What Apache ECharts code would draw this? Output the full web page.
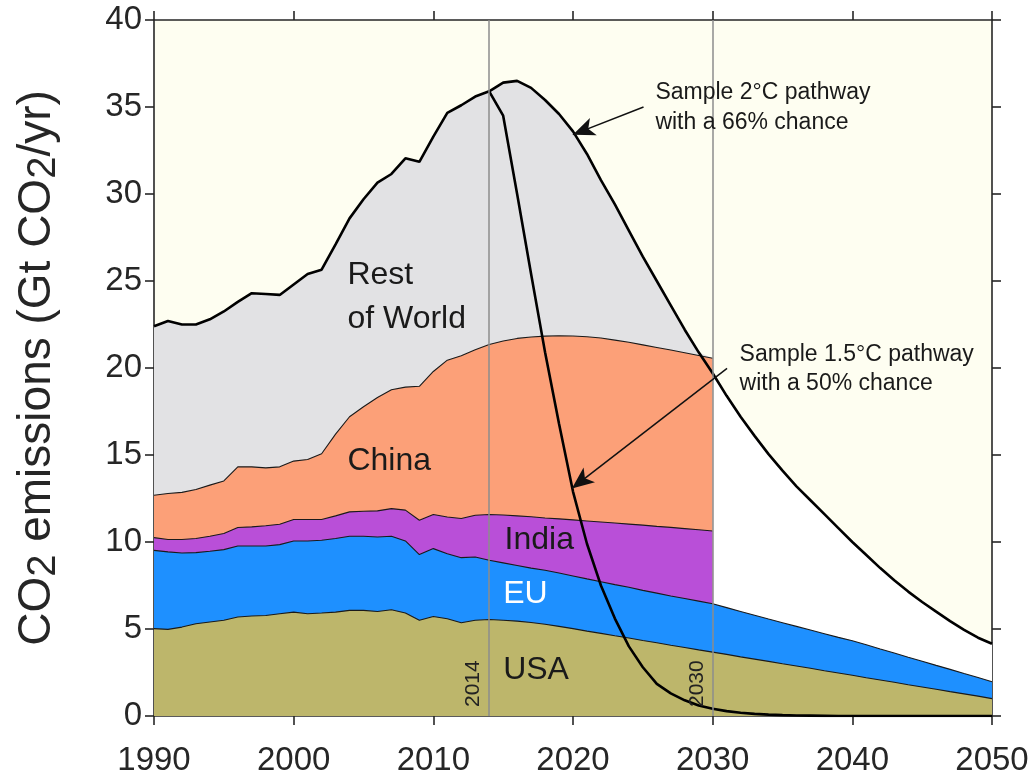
<!DOCTYPE html>
<html>
<head>
<meta charset="utf-8">
<script src="https://cdn.jsdelivr.net/npm/echarts@6/dist/echarts.min.js"></script>
<style>
  html, body { margin: 0; padding: 0; background: #ffffff; }
  #chart { width: 1032px; height: 776px; }
</style>
</head>
<body>
<div id="chart"></div>
<script>
// ---------- data (Gt CO2 / yr) ----------
const years = [1990,1991,1992,1993,1994,1995,1996,1997,1998,1999,
               2000,2001,2002,2003,2004,2005,2006,2007,2008,2009,
               2010,2011,2012,2013,2014,2015,2016,2017,2018,2019,
               2020,2021,2022,2023,2024,2025,2026,2027,2028,2029,
               2030,2031,2032,2033,2034,2035,2036,2037,2038,2039,
               2040,2041,2042,2043,2044,2045,2046,2047,2048,2049,2050];
const xTicks = [1990, 2000, 2010, 2020, 2030, 2040, 2050];
const yTicks = [0, 5, 10, 15, 20, 25, 30, 35, 40];

// 1990-2050
const usa = [5.02,4.98,5.11,5.30,5.40,5.50,5.69,5.75,5.78,5.88,
             5.97,5.88,5.92,5.97,6.07,6.07,6.01,6.11,5.92,5.50,
             5.72,5.59,5.36,5.50,5.55,5.50,5.45,5.37,5.27,5.15,
             5.02,4.88,4.75,4.61,4.48,4.34,4.21,4.07,3.94,3.80,
             3.67,3.54,3.40,3.27,3.14,3.00,2.87,2.74,2.60,2.47,
             2.34,2.20,2.07,1.94,1.80,1.67,1.54,1.40,1.27,1.14,1.00];
const eu  = [4.50,4.45,4.26,4.09,4.07,4.06,4.08,4.02,3.99,3.97,
             4.09,4.18,4.18,4.23,4.26,4.26,4.28,4.22,4.14,3.78,
             3.90,3.74,3.74,3.64,3.40,3.30,3.20,3.13,3.11,3.07,
             3.03,3.00,2.97,2.94,2.92,2.88,2.85,2.83,2.81,2.80,
             2.78,2.69,2.61,2.52,2.43,2.36,2.28,2.20,2.13,2.05,
             1.98,1.89,1.78,1.68,1.58,1.48,1.37,1.28,1.17,1.07,0.97];
// 1990-2030
const india = [0.73,0.71,0.77,0.81,0.86,0.93,1.06,1.10,1.16,1.17,
               1.23,1.23,1.19,1.30,1.40,1.44,1.50,1.59,1.77,1.97,
               1.96,2.11,2.25,2.40,2.63,2.75,2.85,2.95,3.00,3.11,
               3.22,3.33,3.43,3.54,3.63,3.75,3.84,3.94,4.02,4.10,4.18];
const china = [2.44,2.65,2.71,2.82,2.94,3.02,3.49,3.45,3.33,3.30,
               3.36,3.45,3.78,4.70,5.47,6.00,6.51,6.83,7.07,7.70,
               8.22,9.01,9.35,9.51,9.77,10.00,10.20,10.33,10.45,10.52,
               10.57,10.59,10.57,10.51,10.45,10.36,10.28,10.19,10.11,10.02,9.93];
const restOfWorld = [9.71,9.91,9.65,9.48,9.53,9.74,9.48,9.98,9.99,9.88,
               10.15,10.66,10.58,10.90,11.40,11.93,12.35,12.40,13.15,12.90,
               13.50,14.21,14.40,14.55,14.55,14.85,14.80,14.32,13.57,12.75,
               11.76,10.50,9.08,7.80,6.42,5.07,3.82,2.57,1.32,0.18,0.00];
// historical total 1990-2014
const totalHist = [22.4,22.7,22.5,22.5,22.8,23.25,23.8,24.3,24.25,24.2,
                   24.8,25.4,25.65,27.1,28.6,29.7,30.65,31.15,32.05,31.85,
                   33.3,34.66,35.1,35.6,35.9];
// pathways 2014-2050
const path2C = [35.9,36.4,36.5,36.1,35.4,34.6,33.6,32.3,30.8,29.4,
                27.9,26.4,25.0,23.6,22.2,20.9,19.7,18.4,17.2,16.1,
                15.05,14.1,13.2,12.4,11.6,10.8,10.0,9.25,8.5,7.8,
                7.15,6.55,6.0,5.45,4.95,4.5,4.15];
const path15 = [35.9,34.5,30.0,25.4,20.9,16.8,12.9,9.9,7.5,5.6,
                4.0,2.8,1.85,1.3,0.9,0.6,0.42,0.28,0.19,0.12,
                0.08,0.05,0.03,0.02,0.01,0,0,0,0,0,
                0,0,0,0,0,0,0];
const markYears = [2014, 2030];

// ---------- build ----------
const FONT = "'Liberation Sans', Arial, Helvetica, sans-serif";
const pairs = (xs, vs) => vs.map((v, i) => [xs[i], v]);
const pathYears = years.slice(years.indexOf(2014));
const totalLine = pairs(years, totalHist).concat(pairs(pathYears, path2C).slice(1));
const path15Data = pairs(pathYears, path15);

// cumulative layers (bottom to top), drawn back-to-front
const layers = [
  { name: 'USA', vals: usa, color: '#bdb66b', edge: true },
  { name: 'EU', vals: eu, color: '#1e90ff', edge: true },
  { name: 'India', vals: india, color: '#b94fd8', edge: true },
  { name: 'China', vals: china, color: '#fca078', edge: true },
  { name: 'Rest of World', vals: restOfWorld, color: '#e2e2e4', edge: false }
];
let running = [];
layers.forEach(l => {
  l.cum = l.vals.map((v, i) => Math.round(((running[i] || 0) + v) * 1000) / 1000);
  running = l.cum;
});
const EDGE = { color: '#1a1a1a', width: 1.1 };
const layerSeries = layers.slice().reverse().map(l => ({
  name: l.name, type: 'line', data: pairs(years, l.cum),
  symbol: 'none', z: 2, silent: true,
  lineStyle: l.edge ? EDGE : { width: 0 },
  itemStyle: { color: l.color },
  areaStyle: { color: l.color, opacity: 1, origin: 'start' }
}));

const chart = echarts.init(document.getElementById('chart'), null, { renderer: 'canvas' });

const axisLineStyle = { color: '#262626', width: 1.6 };
const option = {
  animation: false,
  backgroundColor: '#ffffff',
  grid: { left: 154, right: 40, top: 20, bottom: 60, show: true,
          containLabel: false, outerBoundsMode: 'none',
          backgroundColor: '#fefef1', borderWidth: 0 },
  xAxis: [
    { type: 'value', min: 1990, max: 2050, interval: 10, position: 'bottom',
      axisLine: { show: true, onZero: false, lineStyle: axisLineStyle },
      axisTick: { show: true, length: 9, lineStyle: axisLineStyle },
      axisLabel: { fontSize: 33, color: '#262626', fontFamily: FONT, margin: 28,
                   formatter: v => xTicks.includes(v) ? String(v) : '' },
      splitLine: { show: false } },
    { type: 'value', min: 1990, max: 2050, interval: 10, position: 'top',
      axisLine: { show: true, onZero: false, lineStyle: axisLineStyle },
      axisTick: { show: true, length: 9, lineStyle: axisLineStyle },
      axisLabel: { show: false }, splitLine: { show: false } }
  ],
  yAxis: [
    { type: 'value', min: 0, max: 40, interval: 5, position: 'left',
      axisLine: { show: true, onZero: false, lineStyle: axisLineStyle },
      axisTick: { show: true, length: 9, lineStyle: axisLineStyle },
      axisLabel: { fontSize: 33, color: '#262626', fontFamily: FONT, margin: 12,
                   formatter: v => yTicks.includes(v) ? String(v) : '' },
      splitLine: { show: false },
      name: '{m|CO}{s|2}{m| emissions (Gt CO}{s|2}{m|/yr)}',
      nameLocation: 'middle', nameGap: 90,
      nameTextStyle: {
        fontFamily: FONT, color: '#262626',
        rich: {
          m: { fontSize: 46, fontFamily: FONT, color: '#262626', lineHeight: 50, verticalAlign: 'top' },
          s: { fontSize: 40, fontFamily: FONT, color: '#262626', lineHeight: 40, padding: [34, 0, 0, 0], verticalAlign: 'bottom' }
        }
      } },
    { type: 'value', min: 0, max: 40, interval: 5, position: 'right',
      axisLine: { show: true, onZero: false, lineStyle: axisLineStyle },
      axisTick: { show: true, length: 9, lineStyle: axisLineStyle },
      axisLabel: { show: false }, splitLine: { show: false } }
  ],
  series: [
    { name: 'under', type: 'line', data: totalLine, symbol: 'none', z: 1, silent: true,
      lineStyle: { width: 0 }, areaStyle: { color: '#ffffff', opacity: 1, origin: 'start' } },
    ...layerSeries,
    { name: 'years', type: 'line', data: [], z: 3, silent: true,
      markLine: {
        silent: true, symbol: ['none', 'none'],
        lineStyle: { color: '#8c8c8c', width: 1.5, type: 'solid' },
        label: { show: true, formatter: '{b}', position: 'insideStartTop',
                 fontSize: 21, fontFamily: FONT, color: '#222', distance: [9, 5] },
        data: markYears.map(y => [{ name: String(y), coord: [y, 0] }, { coord: [y, 40] }])
      } },
    { name: 'Total / 2°C pathway', type: 'line', data: totalLine, symbol: 'none', z: 4, silent: true,
      lineStyle: { color: '#000', width: 2.6 } },
    { name: '1.5°C pathway', type: 'line', data: path15Data, symbol: 'none', z: 4, silent: true,
      lineStyle: { color: '#000', width: 2.6 } },
    { name: 'annotations', type: 'line', data: [], z: 5, silent: true,
      markLine: {
        silent: true,
        lineStyle: { color: '#111', width: 1.5, type: 'solid' },
        itemStyle: { color: '#111' },
        label: { show: false },
        data: [
          [{ coord: [2025.05, 35.0], symbol: 'none' },
           { coord: [2019.99, 33.41], symbol: 'arrow', symbolSize: [14, 22] }],
          [{ coord: [2031.03, 19.98], symbol: 'none' },
           { coord: [2019.92, 13.08], symbol: 'arrow', symbolSize: [14, 22] }]
        ]
      },
      markPoint: {
        silent: true, symbol: 'circle', symbolSize: 0,
        itemStyle: { color: 'rgba(0,0,0,0)' },
        label: { show: true, position: 'right', distance: 0, fontFamily: FONT,
                 color: '#1a1a1a', align: 'left' },
        data: [
          { coord: [2025.9, 34.94], label: { formatter: 'Sample 2°C pathway\nwith a 66% chance', fontSize: 23, lineHeight: 30 } },
          { coord: [2031.93, 19.91], label: { formatter: 'Sample 1.5°C pathway\nwith a 50% chance', fontSize: 23, lineHeight: 29 } },
          { coord: [2003.85, 24.09], label: { formatter: 'Rest\nof World', fontSize: 32, lineHeight: 44 } },
          { coord: [2003.85, 14.65], label: { formatter: 'China', fontSize: 32 } },
          { coord: [2015.1, 10.1], label: { formatter: 'India', fontSize: 32 } },
          { coord: [2015.0, 6.99], label: { formatter: 'EU', fontSize: 32, color: '#ffffff' } },
          { coord: [2015.0, 2.62], label: { formatter: 'USA', fontSize: 32 } }
        ]
      } }
  ]
};
chart.setOption(option);
</script>
</body>
</html>
